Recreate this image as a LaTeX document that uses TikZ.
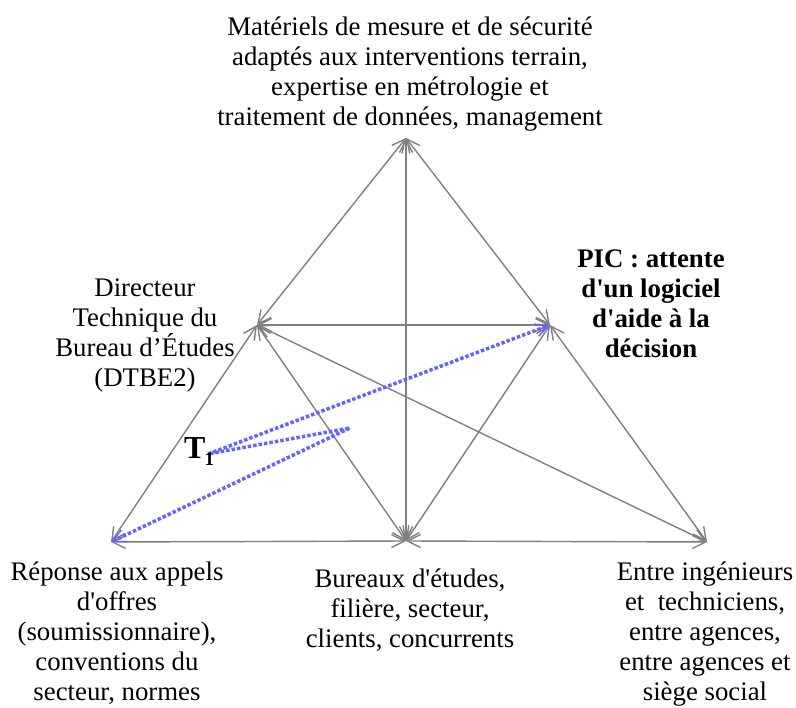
\documentclass[tikz,border=0pt]{standalone}
\usepackage{fontspec}
\setmainfont{Liberation Serif}[Ligatures=TeXOff]
\usetikzlibrary{arrows.meta}
\definecolor{edgegray}{RGB}{128,128,128}
\definecolor{dotblue}{RGB}{100,100,255}
\tikzset{
  edge/.style={draw=edgegray, line width=1.4pt, {Straight Barb[length=13pt,width=13pt]}-{Straight Barb[length=13pt,width=13pt]}},
  bluepath/.style={draw=dotblue, line width=3.5pt, dash pattern=on 3.5pt off 2pt,
    {Straight Barb[length=13pt,width=13pt,line width=1.4pt]}-{Straight Barb[length=13pt,width=13pt,line width=1.4pt]}},
  lbl/.style={align=center, inner sep=0pt, anchor=base, font=\fontsize{26.8}{30}\selectfont},
  blbl/.style={lbl, font=\fontsize{26.8}{30}\selectfont\bfseries}
}
\begin{document}
\begin{tikzpicture}[x=1pt,y=-1pt]
\useasboundingbox (0,0) rectangle (796,708);
\coordinate (A) at (406,138);
\coordinate (B) at (257,325);
\coordinate (C) at (550,325);
\coordinate (D) at (111,542);
\coordinate (E) at (406,541);
\coordinate (F) at (707,542);
\coordinate (P) at (350,428);
\coordinate (T) at (208,454);
% gray edges
\draw[edge] (A) -- (B);
\draw[edge] (A) -- (C);
\draw[edge] (A) -- (E);
\draw[edge] (B) -- (C);
\draw[edge] (B) -- (D);
\draw[edge] (B) -- (E);
\draw[edge] (B) -- (F);
\draw[edge] (C) -- (E);
\draw[edge] (C) -- (F);
\draw[edge] (D) -- (E);
\draw[edge] (E) -- (F);
% blue dotted path
\draw[bluepath] (D) -- (P) -- (T) -- (C);
% labels (anchor = baseline of last line)
\node[lbl] (top) at (410,126) {Matériels de mesure et de sécurité\\adaptés aux interventions terrain,\\expertise en métrologie et\\traitement de données, management};
\node[lbl] (dtbe) at (145,387) {Directeur\\Technique du\\Bureau d’Études\\(DTBE2)};
\node[blbl] (pic) at (651,358) {PIC : attente\\d'un logiciel\\d'aide à la\\décision};
\node[lbl] (rep) at (117,700) {Réponse aux appels\\d'offres\\(soumissionnaire),\\conventions du\\secteur, normes};
\node[lbl] (bur) at (410,648) {Bureaux d'études,\\filière, secteur,\\clients, concurrents};
\node[lbl] (ent) at (705,700) {Entre ingénieurs\\et \ techniciens,\\entre agences,\\entre agences et\\siège social};
\node[inner sep=0pt, anchor=base west, font=\fontsize{32}{34}\selectfont\bfseries] (t1) at (184,459) {T\kern-1pt\raisebox{-7pt}{\fontsize{19}{20}\selectfont 1}};
\end{tikzpicture}
\end{document}
